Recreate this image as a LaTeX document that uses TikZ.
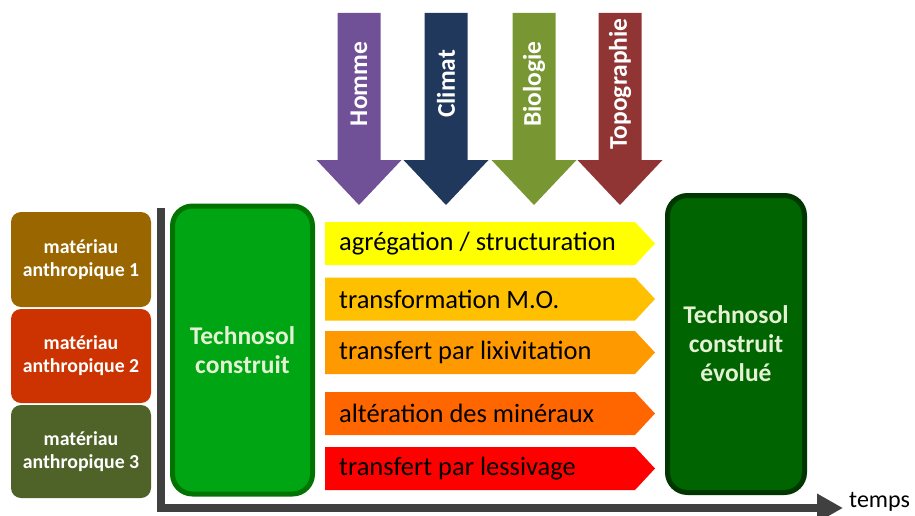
\documentclass[tikz,border=0pt]{standalone}
\usepackage{fontspec}
\setmainfont{Carlito}
\usetikzlibrary{arrows.meta}

\definecolor{mat1}{RGB}{153,102,0}
\definecolor{mat2}{RGB}{204,51,0}
\definecolor{mat3}{RGB}{79,98,40}
\definecolor{homme}{RGB}{112,80,150}
\definecolor{climat}{RGB}{31,56,92}
\definecolor{bio}{RGB}{120,150,50}
\definecolor{topo}{RGB}{145,52,52}
\definecolor{proc1}{RGB}{255,255,0}
\definecolor{proc2}{RGB}{255,192,0}
\definecolor{proc3}{RGB}{255,153,0}
\definecolor{proc4}{RGB}{255,102,0}
\definecolor{proc5}{RGB}{255,0,0}
\definecolor{axisgray}{RGB}{64,64,64}
\definecolor{lightgreen}{RGB}{0,165,20}
\definecolor{lightgreenline}{RGB}{0,115,0}
\definecolor{darkgreen}{RGB}{0,100,0}
\definecolor{darkgreenline}{RGB}{0,55,0}
\definecolor{paletext}{RGB}{228,242,212}

\tikzset{
  matbox/.style={rounded corners=10pt, text=white, align=center, inner sep=0pt,
    font=\bfseries\fontsize{19.8}{23}\selectfont, minimum width=140pt},
  solbox/.style={rounded corners=20pt, line width=5pt, text=paletext, align=center,
    inner sep=0pt, font=\bfseries\fontsize{25.5}{29}\selectfont},
  factlabel/.style={rotate=90, text=white, inner sep=0pt,
    font=\bfseries\fontsize{25.5}{28}\selectfont},
  proclabel/.style={anchor=west, inner sep=0pt, text={RGB:red,40;green,25;blue,0},
    font=\fontsize{26.5}{30}\selectfont},
}

\begin{document}
\begin{tikzpicture}[x=1pt, y=-1pt]
    \useasboundingbox (0,0) rectangle (915,516);

    % materiaux de depart
    \node[matbox, fill=mat1, minimum height=95pt] (mat1) at (81,259.5) {matériau\\anthropique 1};
    \node[matbox, fill=mat2, minimum height=94pt] (mat2) at (81,356) {matériau\\anthropique 2};
    \node[matbox, fill=mat3, minimum height=93pt] (mat3) at (81,451.5) {matériau\\anthropique 3};

    % axe du temps
    \coordinate (axtop) at (161,208);
    \coordinate (orig) at (161,508);
    \coordinate (axend) at (843,508);
    \draw[axisgray, line width=8pt, line join=miter,
      -{Triangle[length=26pt, width=27pt]}] (axtop) -- (orig) -- (axend);
    \node[anchor=west, inner sep=0pt, font=\fontsize{24}{28}\selectfont] (temps) at (849,502) {temps};

    % sols
    \node[solbox, draw=lightgreenline, fill=lightgreen, minimum width=140pt, minimum height=288pt]
      (construit) at (242.5,350) {Technosol\\construit};
    \node[solbox, draw=darkgreenline, fill=darkgreen, minimum width=137pt, minimum height=297pt]
      (evolue) at (736,344) {Technosol\\construit\\évolué};

    % facteurs
    \foreach \x/\col/\lab in {359/homme/Homme, 446/climat/Climat, 534/bio/Biologie, 620/topo/Topographie}{
      \fill[\col] (\x-21.5,13) -- (\x+21.5,13) -- (\x+21.5,160) -- (\x+42.5,160)
        -- (\x,205) -- (\x-42.5,160) -- (\x-21.5,160) -- cycle;
      \node[factlabel] (f-\col) at (\x,84) {\lab};
    }

    % processus
    \foreach \y/\col/\txt [count=\i] in {243.5/proc1/{agrégation / structuration},
        299/proc2/{transformation M.O.}, 352.5/proc3/{transfert  par lixivitation},
        413.5/proc4/{altération des minéraux}, 468.5/proc5/{transfert  par lessivage}}{
      \fill[\col] (325,\y-21.5) -- (635,\y-21.5) -- (655,\y) -- (635,\y+21.5)
        -- (325,\y+21.5) -- cycle;
      \node[proclabel] (p\i) at (339,\y) {\txt};
    }
\end{tikzpicture}
\end{document}
